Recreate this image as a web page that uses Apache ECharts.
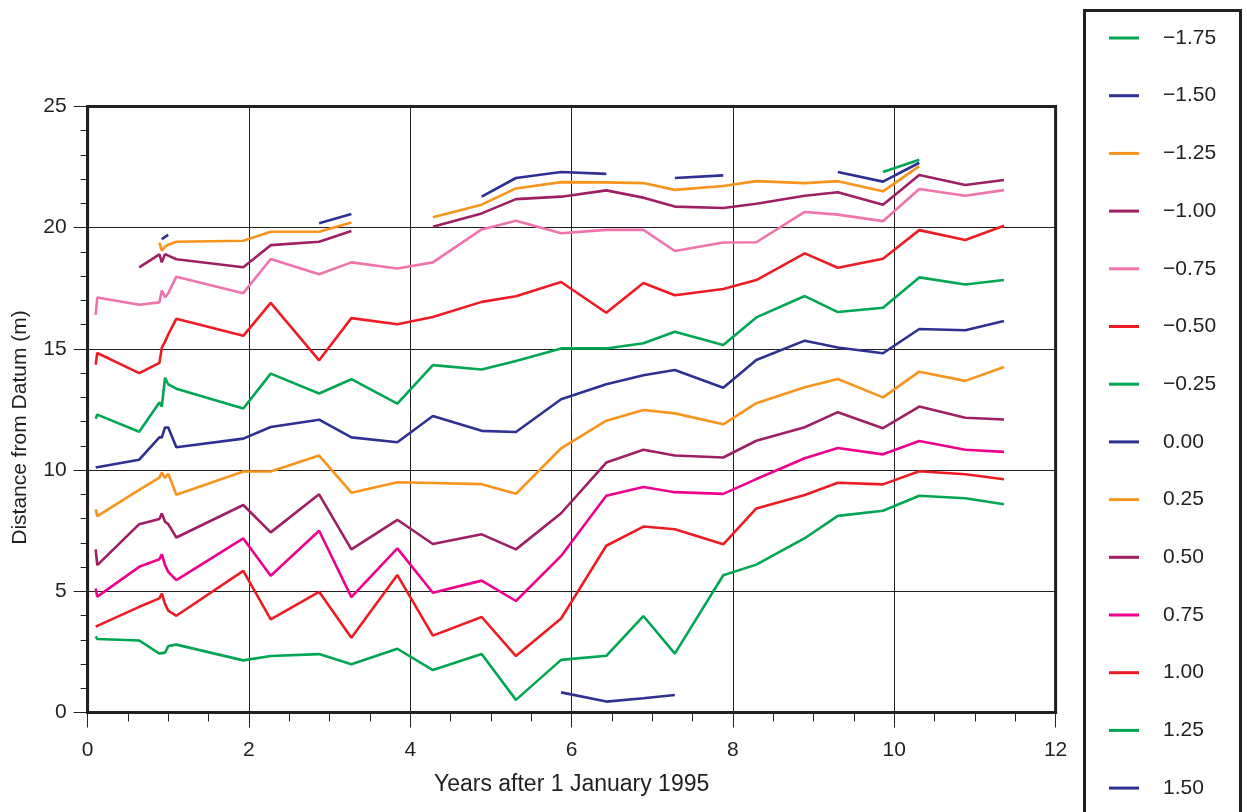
<!DOCTYPE html>
<html>
<head>
<meta charset="utf-8">
<script src="https://cdn.jsdelivr.net/npm/echarts@6/dist/echarts.min.js"></script>
<style>
  html, body { margin: 0; padding: 0; background: #ffffff; }
  #chart { width: 1247px; height: 812px; }
</style>
</head>
<body>
<div id="chart"></div>
<script>
// Survey times (years after 1 Jan 1995), shared by all profiles
const years = [0.10, 0.12, 0.64, 0.89, 0.92, 0.96, 1.00, 1.10, 1.93, 2.27, 2.87, 3.27, 3.84, 4.28,
               4.885, 5.31, 5.87, 6.43, 6.89, 7.28, 7.88, 8.29, 8.89, 9.30, 9.86, 10.31, 10.88, 11.36];

const n = null;
// Distance from datum (m) for each contour level; null = not surveyed
const lvlM175 = [n, n, n, n, n, n, n, n, n, n, n, n, n, n, n, n, n, n, n, n, n, n, n, n, 22.30, 22.80, n, n];
const lvlM150 = [n, n, n, n, 19.52, 19.62, 19.70, n, n, n, 20.18, 20.57, n, n, 21.28, 22.05, 22.30, 22.22, n, 22.05, 22.16, n, n, 22.30, 21.90, 22.68, n, n];
const lvlM125 = [n, n, n, 19.38, 19.05, 19.22, 19.30, 19.42, 19.46, 19.83, 19.83, 20.21, n, 20.43, 20.95, 21.62, 21.88, 21.87, 21.84, 21.56, 21.72, 21.92, 21.84, 21.92, 21.50, 22.54, n, n];
const lvlM100 = [n, n, 18.36, 18.90, 18.57, 18.91, 18.85, 18.70, 18.37, 19.28, 19.42, 19.86, n, 20.04, 20.59, 21.18, 21.28, 21.54, 21.24, 20.87, 20.81, 20.99, 21.32, 21.46, 20.95, 22.17, 21.76, 21.97];
const lvlM075 = [16.40, 17.12, 16.82, 16.92, 17.41, 17.12, 17.30, 17.98, 17.30, 18.71, 18.08, 18.57, 18.32, 18.57, 19.93, 20.29, 19.77, 19.91, 19.91, 19.04, 19.39, 19.40, 20.65, 20.54, 20.27, 21.60, 21.32, 21.55];
const lvlM050 = [14.35, 14.83, 14.00, 14.42, 15.05, 15.30, 15.60, 16.24, 15.54, 16.90, 14.53, 16.27, 16.02, 16.32, 16.94, 17.17, 17.76, 16.49, 17.72, 17.21, 17.47, 17.84, 18.94, 18.35, 18.72, 19.90, 19.49, 20.08];
const lvlM025 = [12.12, 12.29, 11.58, 12.79, 12.62, 13.81, 13.54, 13.36, 12.54, 13.98, 13.16, 13.75, 12.74, 14.33, 14.15, 14.50, 15.02, 15.02, 15.23, 15.71, 15.16, 16.30, 17.18, 16.52, 16.70, 17.95, 17.66, 17.84];
const lvl000  = [10.11, 10.13, 10.43, 11.35, 11.35, 11.76, 11.76, 10.94, 11.30, 11.78, 12.08, 11.35, 11.15, 12.23, 11.62, 11.57, 12.92, 13.54, 13.91, 14.13, 13.40, 14.54, 15.34, 15.06, 14.82, 15.82, 15.77, 16.15];
const lvl025  = [8.38, 8.10, 9.18, 9.69, 9.90, 9.67, 9.85, 8.98, 9.94, 9.94, 10.60, 9.07, 9.50, 9.47, 9.42, 9.02, 10.90, 12.04, 12.48, 12.34, 11.89, 12.76, 13.42, 13.76, 13.00, 14.06, 13.68, 14.25];
const lvl050  = [6.73, 6.08, 7.77, 7.98, 8.21, 7.87, 7.77, 7.22, 8.56, 7.43, 9.00, 6.73, 7.95, 6.95, 7.35, 6.73, 8.22, 10.31, 10.84, 10.60, 10.52, 11.21, 11.77, 12.39, 11.73, 12.62, 12.16, 12.09];
const lvl075  = [5.12, 4.78, 6.01, 6.32, 6.53, 6.08, 5.80, 5.46, 7.18, 5.64, 7.50, 4.76, 6.77, 4.94, 5.44, 4.60, 6.46, 8.94, 9.30, 9.09, 9.02, 9.63, 10.49, 10.91, 10.65, 11.20, 10.84, 10.75];
const lvl100  = [3.54, 3.58, 4.36, 4.71, 4.91, 4.47, 4.20, 3.99, 5.84, 3.84, 4.98, 3.08, 5.67, 3.17, 3.94, 2.33, 3.88, 6.88, 7.67, 7.56, 6.94, 8.42, 8.97, 9.48, 9.41, 9.95, 9.83, 9.62];
const lvl125  = [3.14, 3.03, 2.97, 2.43, 2.45, 2.47, 2.74, 2.80, 2.15, 2.33, 2.41, 1.99, 2.63, 1.75, 2.41, 0.52, 2.17, 2.34, 3.98, 2.43, 5.66, 6.10, 7.19, 8.11, 8.32, 8.94, 8.84, 8.59];
const lvl150  = [n, n, n, n, n, n, n, n, n, n, n, n, n, n, n, n, 0.83, 0.45, 0.59, 0.72, n, n, n, n, n, n, n, n];

const levelNames = ['\u22121.75', '\u22121.50', '\u22121.25', '\u22121.00', '\u22120.75', '\u22120.50', '\u22120.25',
                    '0.00', '0.25', '0.50', '0.75', '1.00', '1.25', '1.50'];
const levelValues = [lvlM175, lvlM150, lvlM125, lvlM100, lvlM075, lvlM050, lvlM025,
                     lvl000, lvl025, lvl050, lvl075, lvl100, lvl125, lvl150];

const GREEN = '#00a651', BLUE = '#2e3192', ORANGE = '#f7941d', PURPLE = '#9e1f63',
      PINK = '#f173ac', RED = '#ed1c24', MAGENTA = '#ec008c';
const levelColors = [GREEN, BLUE, ORANGE, PURPLE, PINK, RED, GREEN,
                     BLUE, ORANGE, PURPLE, MAGENTA, RED, GREEN, BLUE];

const INK = '#231f20';
const FONT = '"Liberation Sans", Arial, sans-serif';

const series = levelNames.map((name, i) => ({
  name: name,
  type: 'line',
  data: years.map((x, j) => [x, levelValues[i][j] === null ? '-' : levelValues[i][j]]),
  showSymbol: false,
  symbol: 'none',
  connectNulls: false,
  lineStyle: { color: levelColors[i], width: 2.6 },
  itemStyle: { color: levelColors[i] },
  emphasis: { disabled: true },
  animation: false
}));

const chart = echarts.init(document.getElementById('chart'), null, { renderer: 'canvas' });
chart.setOption({
  backgroundColor: '#ffffff',
  animation: false,
  grid: {
    left: 87.6, top: 106.5, width: 968, height: 606,
    show: true, borderColor: INK, borderWidth: 3, backgroundColor: 'transparent'
  },
  xAxis: {
    type: 'value', min: 0, max: 12, interval: 2,
    name: 'Years after 1 January 1995', nameLocation: 'middle', nameGap: 61,
    nameTextStyle: { fontFamily: FONT, fontSize: 23, color: INK },
    axisLine: { show: true, onZero: false, lineStyle: { color: INK, width: 3 } },
    axisTick: { show: true, inside: false, length: 15, lineStyle: { color: INK, width: 1 } },
    minorTick: { show: true, splitNumber: 4, length: 9, lineStyle: { color: INK, width: 1 } },
    axisLabel: { fontFamily: FONT, fontSize: 21, color: INK, margin: 27 },
    splitLine: { show: true, lineStyle: { color: INK, width: 1 } }
  },
  yAxis: {
    type: 'value', min: 0, max: 25, interval: 5,
    name: 'Distance from Datum (m)', nameLocation: 'middle', nameGap: 57,
    nameTextStyle: { fontFamily: FONT, fontSize: 21, color: INK, padding: [0, 36, 0, 0] },
    axisLine: { show: true, onZero: false, lineStyle: { color: INK, width: 3 } },
    axisTick: { show: true, inside: false, length: 14, lineStyle: { color: INK, width: 1 } },
    minorTick: { show: true, splitNumber: 5, length: 7, lineStyle: { color: INK, width: 1 } },
    axisLabel: { fontFamily: FONT, fontSize: 21, color: INK, margin: 21 },
    splitLine: { show: true, lineStyle: { color: INK, width: 1 } }
  },
  legend: {
    orient: 'vertical', left: 1109, top: 27.5, padding: 0,
    icon: 'rect', itemWidth: 30, itemHeight: 3,
    itemGap: 36.7,
    selectedMode: false,
    textStyle: { fontFamily: FONT, fontSize: 21, color: INK, lineHeight: 21, padding: [0, 0, 0, 19] },
    data: levelNames
  },
  graphic: [{
    type: 'rect', left: 1083, top: 9,
    shape: { width: 156, height: 830 },
    style: { fill: 'transparent', stroke: INK, lineWidth: 3 },
    silent: true
  }],
  series: series
});
</script>
</body>
</html>
